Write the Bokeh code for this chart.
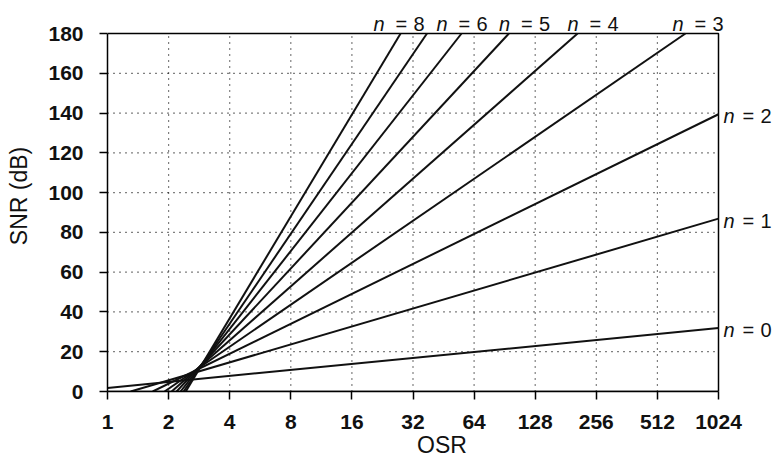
from bokeh.plotting import figure
from bokeh.models import FixedTicker, Range1d, ColumnDataSource
from bokeh.embed import file_html
from bokeh.resources import INLINE
from bokeh.core.properties import value

# ---- data ----
orders = [0, 1, 2, 3, 4, 5, 6, 7, 8]
osr_start = [1.0, 1.30, 1.67, 1.91, 2.07, 2.19, 2.29, 2.37, 2.43]
snr_start = [1.8, 0, 0, 0, 0, 0, 0, 0, 0]
osr_end = [1024, 1024, 1024, 704, 207, 95, 55.5, 37.5, 27.8]
snr_end = [31.9, 86.9, 139.4, 180, 180, 180, 180, 180, 180]

x_ticks = [1, 2, 4, 8, 16, 32, 64, 128, 256, 512, 1024]
x_tick_labels = ["1", "2", "4", "8", "16", "32", "64", "128", "256", "512", "1024"]
y_ticks = [0, 20, 40, 60, 80, 100, 120, 140, 160, 180]

top_labeled = [8, 6, 5, 4, 3]
right_labeled = [2, 1, 0]

FONT = "Liberation Sans"
INK = "#111111"

x0, x1 = x_ticks[0], x_ticks[-1]
y0, y1 = y_ticks[0], y_ticks[-1]

# The frame is widened to the window's right and top edges so that the
# "n = k" labels (drawn as glyphs) are not clipped; the box is drawn at the data limits.
FRAME_W, FRAME_H = 669, 391
BOX_W, BOX_H = 611, 358
x_range_end = x0 * (x1 / x0) ** (FRAME_W / BOX_W)
y_range_end = y0 + (y1 - y0) * FRAME_H / BOX_H

p = figure(width=776, height=464, x_axis_type="log",
           x_range=Range1d(x0, x_range_end), y_range=Range1d(y0, y_range_end),
           output_backend="svg", toolbar_location=None,
           min_border_left=107, min_border_right=0,
           min_border_top=0, min_border_bottom=73)
p.background_fill_color = "white"
p.border_fill_color = "white"
p.outline_line_color = None
p.xgrid.visible = False
p.ygrid.visible = False

p.xaxis.ticker = FixedTicker(ticks=x_ticks, minor_ticks=[])
p.yaxis.ticker = FixedTicker(ticks=y_ticks, minor_ticks=[])
p.xaxis.major_label_overrides = {float(t): l for t, l in zip(x_ticks, x_tick_labels)}
p.xaxis.bounds = (x0, x1)
p.yaxis.bounds = (y0, y1)

for ax in (p.xaxis[0], p.yaxis[0]):
    ax.axis_line_color = "black"
    ax.axis_line_width = 1.5
    ax.major_tick_line_color = "black"
    ax.major_tick_line_width = 1.5
    ax.major_tick_out = 8
    ax.major_tick_in = 0
    ax.minor_tick_line_color = None
    ax.major_label_text_font = FONT
    ax.major_label_text_font_size = "21px"
    ax.major_label_text_font_style = "bold"
    ax.major_label_text_color = INK
    ax.axis_label_text_font = FONT
    ax.axis_label_text_font_size = "23px"
    ax.axis_label_text_font_style = "normal"
    ax.axis_label_text_color = INK

p.xaxis.axis_label = "OSR"
p.yaxis.axis_label = "SNR (dB)"
p.xaxis.major_label_standoff = 15
p.yaxis.major_label_standoff = 16
p.xaxis.axis_label_standoff = 0
p.yaxis.axis_label_standoff = 13

# dotted grid inside the box
gx = x_ticks[1:-1]
gy = y_ticks[1:-1]
p.segment(x0=gx, y0=[y0] * len(gx), x1=gx, y1=[y1] * len(gx),
          line_color="black", line_width=1.2, line_dash="1 5")
p.segment(x0=[x0] * len(gy), y0=gy, x1=[x1] * len(gy), y1=gy,
          line_color="black", line_width=1.2, line_dash="1 5")

# box
p.line(x=[x0, x1, x1, x0], y=[y0, y0, y1, y1], line_color="black", line_width=1.5)

# SNR lines, clipped to the box top
xs = [[s, e] for s, e in zip(osr_start, osr_end)]
ys = [[s, e] for s, e in zip(snr_start, snr_end)]
p.multi_line(xs=xs, ys=ys, line_color=INK, line_width=2)

# ---- labels "n = k" (italic n) ----
top_dx = {8: -27, 6: -25, 5: -10, 4: -10, 3: -13}
rows = dict(x=[], y=[], t=[], dx=[], dy=[], st=[])
for n in top_labeled:
    i = orders.index(n)
    for piece, off, st in zip(("n", "=", str(n)), (0, 22, 40), ("italic", "normal", "normal")):
        rows["x"].append(osr_end[i]); rows["y"].append(snr_end[i]); rows["t"].append(piece)
        rows["dx"].append(top_dx[n] + off); rows["dy"].append(-10); rows["st"].append(st)
for n in right_labeled:
    i = orders.index(n)
    for piece, off, st in zip(("n", "=", str(n)), (5, 24, 42), ("italic", "normal", "normal")):
        rows["x"].append(osr_end[i]); rows["y"].append(snr_end[i]); rows["t"].append(piece)
        rows["dx"].append(off); rows["dy"].append(2); rows["st"].append(st)
src = ColumnDataSource(rows)
p.text(x="x", y="y", text="t", x_offset="dx", y_offset="dy", source=src,
       text_font=value(FONT), text_font_size="20px", text_font_style="st",
       text_baseline="middle", text_align="left", text_color=INK)

open("out.html", "w").write(file_html(p, INLINE))
